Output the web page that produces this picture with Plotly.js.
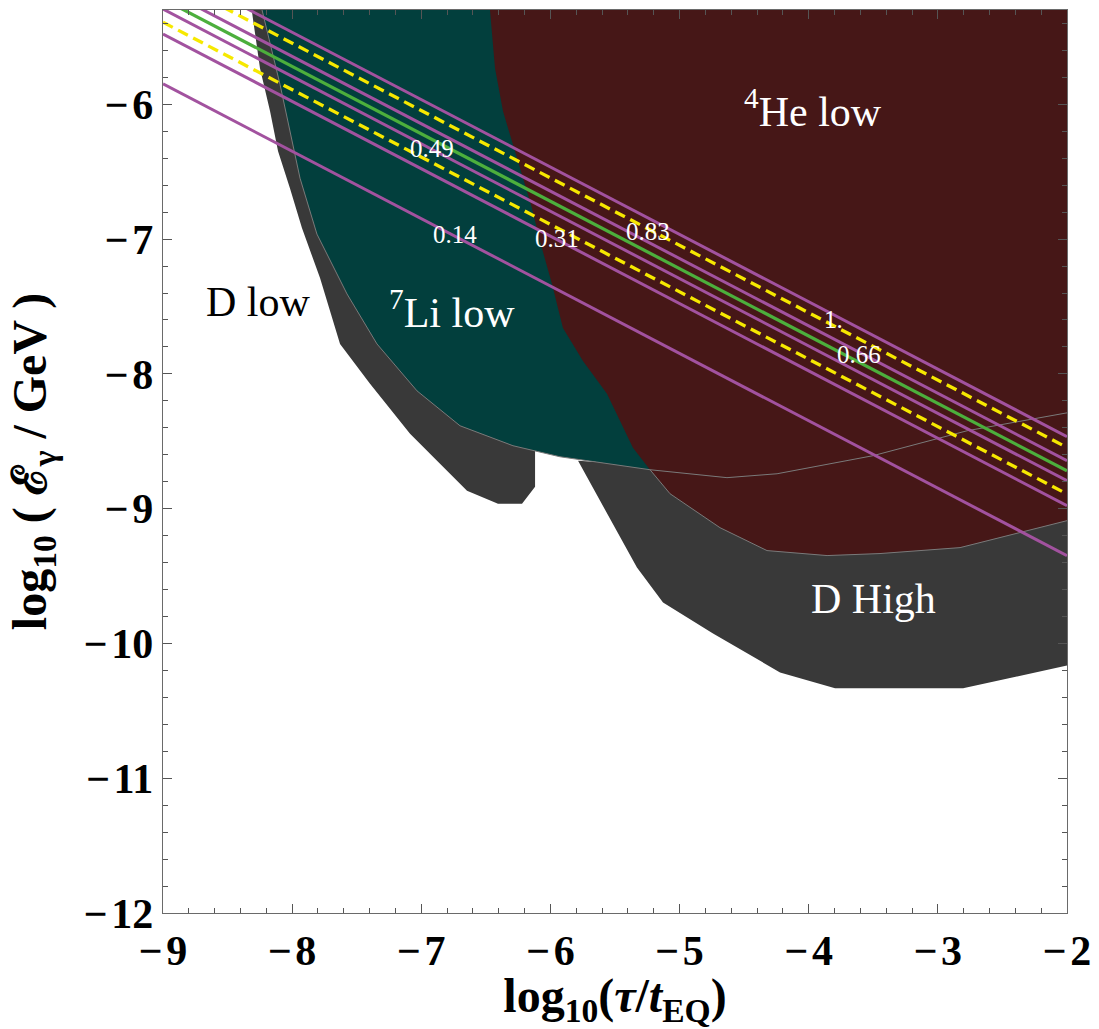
<!DOCTYPE html>
<html>
<head>
<meta charset="utf-8">
<script src="https://cdn.plot.ly/plotly-3.0.1.min.js"></script>
<style>html,body{margin:0;padding:0;background:#fff;}#chart{width:1099px;height:1029px;}</style>
</head>
<body>
<div id="chart"></div>
<script>
// ---- axis ranges / ticks ----
const xRange = [-9, -2];
const yRange = [-12, -5.3];
const xTicks = [-9, -8, -7, -6, -5, -4, -3, -2];
const yTicks = [-12, -11, -10, -9, -8, -7, -6];

// ---- excluded regions (log10 tau/tEQ , log10 E/GeV) ----
const dLowX = [-8.313, -8.288, -8.249, -8.171, -8.109, -8.017, -7.924, -7.784, -7.629, -7.397, -7.087, -6.646, -6.406, -6.220, -6.119, -6.119, -6.119];
const dLowY = [-5.3, -5.481, -5.733, -6.052, -6.348, -6.622, -6.918, -7.289, -7.778, -8.074, -8.444, -8.867, -8.963, -8.963, -8.837, -8.585, -5.3];

const dHighX = [-5.786, -5.515, -5.330, -5.128, -4.741, -4.222, -3.796, -2.805, -2.0, -2.0, -5.229];
const dHighY = [-8.645, -9.111, -9.437, -9.696, -9.926, -10.215, -10.333, -10.333, -10.163, -8.55, -8.68];

const liX = [-8.233, -8.094, -7.939, -7.808, -7.575, -7.343, -7.033, -6.700, -6.290, -5.926, -5.229, -4.633, -4.245, -3.502, -2.774, -2.0, -2.0];
const liY = [-5.3, -5.852, -6.548, -6.963, -7.407, -7.778, -8.126, -8.385, -8.533, -8.615, -8.711, -8.770, -8.741, -8.607, -8.422, -8.289, -5.3];

const heX = [-6.468, -6.429, -6.367, -6.290, -6.212, -6.143, -6.081, -5.988, -5.903, -5.748, -5.562, -5.461, -5.361, -5.229, -5.074, -4.687, -4.323, -3.858, -3.448, -2.828, -2.0, -2.0];
const heY = [-5.3, -5.733, -6.052, -6.296, -6.548, -6.770, -7.015, -7.333, -7.659, -7.904, -8.148, -8.348, -8.548, -8.711, -8.889, -9.141, -9.311, -9.348, -9.333, -9.289, -9.089, -5.3];

// ---- constant-value lines: log10 E at left (x=-9) and right (x=-2) edges ----
const lineX = [-9, -2];
const purpleLeft  = [-4.965, -5.144, -5.293, -5.478, -5.848];
const purpleRight = [-8.465, -8.644, -8.793, -8.978, -9.348];
const yellowLeft  = [-5.046, -5.391];
const yellowRight = [-8.546, -8.891];
const greenLeft   = [-5.219];
const greenRight  = [-8.719];

// ---- contour labels ----
const contourLabels = ['0.49', '0.14', '0.31', '0.83', '1.', '0.66'];
const contourLabelX = [-6.919, -6.739, -5.951, -5.242, -3.809, -3.608];
const contourLabelY = [-6.324, -6.963, -6.995, -6.941, -7.595, -7.859];

// ---- region labels ----
const regionLabels = ['D low', '<sup>7</sup>Li low', '<sup>4</sup>He low', 'D High'];
const regionLabelX = [-8.257, -6.766, -3.970, -3.498];
const regionLabelY = [-7.47, -7.52, -6.03, -9.67];
const regionLabelColor = ['#000000', '#ffffff', '#ffffff', '#ffffff'];

const SERIF = '"Times New Roman", Times, "Liberation Serif", serif';
const GRAY = '#393939', TEAL = '#023f3d', MAROON = '#461717';
const PURPLE = '#a2529f', GREEN = '#4caf3c', YELLOW = '#f6e800';
const EDGE = '#7a7a7a';

const traces = [];
function region(x, y, color) {
  traces.push({x: x, y: y, type: 'scatter', mode: 'lines', fill: 'toself', fillcolor: color,
    line: {width: 0, color: color}, hoverinfo: 'skip', showlegend: false});
}
function edge(x, y) {
  traces.push({x: x, y: y, type: 'scatter', mode: 'lines', line: {width: 1, color: EDGE},
    hoverinfo: 'skip', showlegend: false});
}
region(dLowX, dLowY, GRAY);
region(dHighX, dHighY, GRAY);
region(liX, liY, TEAL);
region(heX, heY, MAROON);
// visible boundaries
edge(liX.slice(0, 16), liY.slice(0, 16));
edge(heX.slice(13, 21), heY.slice(13, 21));

function lines(left, right, color, dash, width) {
  for (let i = 0; i < left.length; i++) {
    traces.push({x: lineX, y: [left[i], right[i]], type: 'scatter', mode: 'lines',
      line: {color: color, width: width, dash: dash}, hoverinfo: 'skip', showlegend: false});
  }
}
lines(purpleLeft, purpleRight, PURPLE, 'solid', 3);
lines(greenLeft, greenRight, GREEN, 'solid', 3.2);
lines(yellowLeft, yellowRight, YELLOW, '11px,6px', 3.3);

const annotations = [];
contourLabels.forEach((t, i) => annotations.push({
  x: contourLabelX[i], y: contourLabelY[i], xref: 'x', yref: 'y', text: t, showarrow: false,
  xanchor: 'center', yanchor: 'middle',
  font: {family: SERIF, size: 25, color: '#ffffff'}
}));
regionLabels.forEach((t, i) => annotations.push({
  x: regionLabelX[i], y: regionLabelY[i], xref: 'x', yref: 'y', text: t, showarrow: false,
  xanchor: 'center', yanchor: 'middle',
  font: {family: SERIF, size: 42, color: regionLabelColor[i]}
}));

const fmtTick = v => String(v).replace('-', '\u2212\u200A');

const axisCommon = {
  showgrid: false, zeroline: false, showline: true, linecolor: '#6a6a6a', linewidth: 1.3,
  mirror: 'allticks', ticks: 'inside', ticklen: 9, tickwidth: 1, tickcolor: '#555',
  tickfont: {family: SERIF, size: 42, color: '#000', weight: 'bold'},
  minor: {dtick: 0.2, ticks: 'inside', ticklen: 5, tickcolor: '#555', tickwidth: 1, showgrid: false},
  fixedrange: true
};

const layout = {
  width: 1099, height: 1029,
  margin: {l: 163, r: 32, t: 10, b: 116},
  paper_bgcolor: '#ffffff', plot_bgcolor: '#ffffff',
  showlegend: false,
  font: {family: SERIF},
  xaxis: Object.assign({}, axisCommon, {
    range: xRange, tickvals: xTicks, ticktext: xTicks.map(fmtTick),
    title: {text: 'log<sub>10</sub>(<i>τ</i>/<i>t</i><sub>EQ</sub>)', standoff: 28,
      font: {family: SERIF, size: 48, color: '#000', weight: 'bold'}}
  }),
  yaxis: Object.assign({}, axisCommon, {
    range: yRange, tickvals: yTicks, ticktext: yTicks.map(fmtTick),
    title: {text: 'log<sub>10</sub> ( ℰ<sub>γ</sub> / GeV )', standoff: 22,
      font: {family: SERIF, size: 48, color: '#000', weight: 'bold'}}
  }),
  annotations: annotations
};

Plotly.newPlot('chart', traces, layout, {displayModeBar: false, staticPlot: true});
</script>
</body>
</html>
